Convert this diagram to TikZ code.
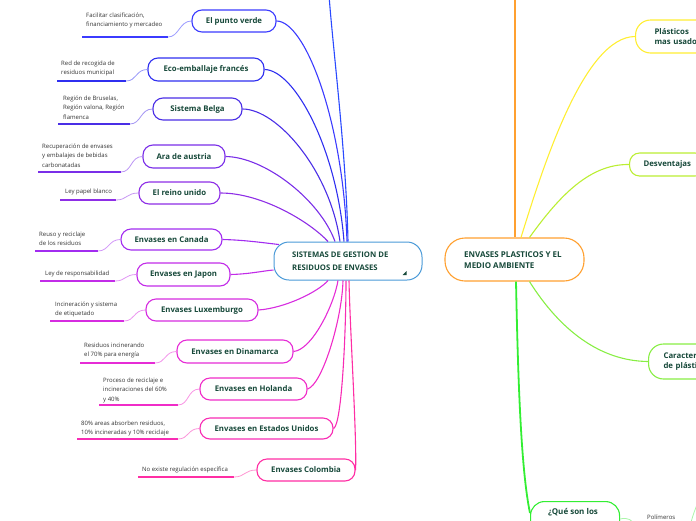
\documentclass[tikz,border=0pt]{standalone}
\usepackage{fontspec}
\setmainfont{Open Sans}
\usetikzlibrary{calc}
\definecolor{tx}{HTML}{17493A}
\definecolor{lt}{HTML}{333333}
\definecolor{ca}{HTML}{3B3BFF}
\definecolor{cb}{HTML}{2F2FF0}
\definecolor{cc}{HTML}{4A2EE6}
\definecolor{cd}{HTML}{7A2EE8}
\definecolor{ce}{HTML}{8E2EE6}
\definecolor{cf}{HTML}{A22CF0}
\definecolor{cg}{HTML}{C22CE8}
\definecolor{ch}{HTML}{D62CE0}
\definecolor{ci}{HTML}{E62CD6}
\definecolor{cj}{HTML}{F02CC8}
\definecolor{ck}{HTML}{F82CB4}
\definecolor{cl}{HTML}{FF2EA4}
\definecolor{cen}{HTML}{4A9AD8}
\definecolor{topb}{HTML}{2A4AFF}
\definecolor{orn}{HTML}{FFA030}
\definecolor{yel}{HTML}{FFEE33}
\definecolor{ygr}{HTML}{BBEE33}
\definecolor{lgr}{HTML}{88EE44}
\definecolor{grn}{HTML}{33EE33}
\definecolor{pgr}{HTML}{AAF5AA}
\tikzset{
 pill/.style={draw, rounded corners=10pt, line width=1.1pt, fill=white, minimum height=22pt, inner xsep=0pt, font=\fontsize{7.8}{9.5}\selectfont\bfseries, text=tx},
 lbl/.style={font=\fontsize{6}{9.6}\selectfont, text=lt, align=left, inner sep=0pt, anchor=north west},
 ul/.style={line width=1.8pt},
 lk/.style={line width=0.8pt},
 cn/.style={line width=1.1pt},
 bigtext/.style={font=\fontsize{7.7}{13}\selectfont\bfseries, text=tx, align=left, inner sep=0pt, anchor=west},
}
\begin{document}
\begin{tikzpicture}[x=1pt,y=-1pt]
\useasboundingbox (0,0) rectangle (696,520);
\clip (0,0) rectangle (696,520);

% ---------- left map: central node ----------
\node[draw=cen, line width=1pt, rounded corners=15pt, minimum width=148pt, minimum height=38pt, fill=white] (cen) at (348,261) {};
\node[bigtext] (cent) at (292,261.5) {SISTEMAS DE GESTION DE\\RESIDUOS DE ENVASES};
\fill[tx] (402.5,275) -- (406.5,275) -- (406.5,271) -- cycle;
\coordinate (offtop) at (329,-5);
\draw[cn, topb] ([xshift=0pt]cen.north) .. controls (346,150) and (333,50) .. (offtop);

% ---------- branch nodes ----------
\node[pill, draw=ca, minimum width=84pt] (pv) at (234,21) {El punto verde};
\node[pill, draw=cb, minimum width=116pt, minimum height=23pt] (eco) at (206,69.5) {Eco-emballaje francés};
\node[pill, draw=cc, minimum width=89pt] (bel) at (197.5,109) {Sistema Belga};
\node[pill, draw=cd, minimum width=82pt, minimum height=23pt] (aus) at (184,156.5) {Ara de austria};
\node[pill, draw=ce, minimum width=81pt] (rei) at (179.5,193) {El reino unido};
\node[pill, draw=cf, minimum width=101pt, minimum height=21pt] (can) at (171.5,239.5) {Envases en Canada};
\node[pill, draw=cg, minimum width=93pt, minimum height=23pt] (jap) at (183.5,274.5) {Envases en Japon};
\node[pill, draw=ch, minimum width=112pt] (lux) at (202,310) {Envases Luxemburgo};
\node[pill, draw=ci, minimum width=116pt, minimum height=23pt] (din) at (235,351.5) {Envases en Dinamarca};
\node[pill, draw=cj, minimum width=107pt] (hol) at (253.5,389) {Envases en Holanda};
\node[pill, draw=ck, minimum width=133pt, minimum height=21pt] (eu) at (266.5,428.5) {Envases en Estados Unidos};
\node[pill, draw=cl, minimum width=98pt] (col) at (306,470) {Envases Colombia};

% ---------- connectors to centre ----------
\draw[cn, ca] (pv.east) .. controls (305,21) and (343,120) .. ([xshift=-1pt]cen.north);
\draw[cn, cb] (eco.east) .. controls (295,70) and (337,150) .. ([xshift=-4pt]cen.north);
\draw[cn, cc] (bel.east) .. controls (277,109) and (330,170) .. ([xshift=-8pt]cen.north);
\draw[cn, cd] (aus.east) .. controls (265,157) and (320,200) .. ([xshift=-13pt]cen.north);
\draw[cn, ce] (rei.east) .. controls (262,193) and (310,222) .. ([xshift=-20pt]cen.north);
\draw[cn, cf] (can.east) .. controls (245,240) and (265,243) .. ([xshift=-69pt,yshift=-3pt]cen.north);
\draw[cn, cg] (jap.east) .. controls (250,274) and (262,271) .. ([yshift=-9pt]cen.west);
\draw[cn, ch] (lux.east) .. controls (285,308) and (318,292) .. ([xshift=-20pt]cen.south);
\draw[cn, ci] (din.east) .. controls (312,350) and (334,305) .. ([xshift=-10pt]cen.south);
\draw[cn, cj] (hol.east) .. controls (322,385) and (342,320) .. ([xshift=-5pt]cen.south);
\draw[cn, ck] (eu.east) .. controls (342,425) and (346,330) .. ([xshift=-2pt]cen.south);
\draw[cn, cl] (col.east) .. controls (357,440) and (350,330) .. ([xshift=1pt]cen.south);

% ---------- labels ----------
\node[lbl] (t1) at (86,12.5) {Facilitar clasificación,\\financiamiento y mercadeo};
\coordinate (a1) at (82,37); \coordinate (b1) at (168,37);
\draw[ul, ca] (a1) -- (b1);
\draw[lk, ca!50] (b1) .. controls +(11,0) and +(-12,0) .. (pv.west);

\node[lbl] (t2) at (61,60.5) {Red de recogida de\\residuos municipal};
\coordinate (a2) at (57,81); \coordinate (b2) at (126,81);
\draw[ul, cb] (a2) -- (b2);
\draw[lk, cb!50] (b2) .. controls +(11,0) and +(-12,0) .. (eco.west);

\node[lbl] (t3) at (63,95.5) {Región de Bruselas,\\Región valona, Región\\flamenca};
\coordinate (a3) at (58,124); \coordinate (b3) at (130,124);
\draw[ul, cc] (a3) -- (b3);
\draw[lk, cc!50] (b3) .. controls +(11,0) and +(-12,0) .. (bel.west);

\node[lbl] (t4) at (42,143.5) {Recuperación de envases\\y embalajes de bebidas\\carbonatadas};
\coordinate (a4) at (38,172); \coordinate (b4) at (121,172);
\draw[ul, cd] (a4) -- (b4);
\draw[lk, cd!50] (b4) .. controls +(11,0) and +(-12,0) .. (aus.west);

\node[lbl] (t5) at (65,188.5) {Ley papel blanco};
\coordinate (a5) at (60,200); \coordinate (b5) at (116,200);
\draw[ul, ce] (a5) -- (b5);
\draw[lk, ce!50] (b5) .. controls +(11,0) and +(-12,0) .. (rei.west);

\node[lbl] (t6) at (39,231.5) {Reuso y reciclaje\\de los residuos};
\coordinate (a6) at (35,251); \coordinate (b6) at (98,251);
\draw[ul, cf] (a6) -- (b6);
\draw[lk, cf!50] (b6) .. controls +(11,0) and +(-12,0) .. (can.west);

\node[lbl] (t7) at (45,270.5) {Ley de responsabilidad};
\coordinate (a7) at (40,281); \coordinate (b7) at (115,281);
\draw[ul, cg] (a7) -- (b7);
\draw[lk, cg!50] (b7) .. controls +(11,0) and +(-12,0) .. (jap.west);

\node[lbl] (t8) at (55,301.5) {Incineración y sistema\\de etiquetado};
\coordinate (a8) at (50,321); \coordinate (b8) at (124,321);
\draw[ul, ch] (a8) -- (b8);
\draw[lk, ch!50] (b8) .. controls +(11,0) and +(-12,0) .. (lux.west);

\node[lbl] (t9) at (84,342.5) {Residuos incinerando\\el 70\% para energía};
\coordinate (a9) at (80,363); \coordinate (b9) at (155,363);
\draw[ul, ci] (a9) -- (b9);
\draw[lk, ci!50] (b9) .. controls +(11,0) and +(-12,0) .. (din.west);

\node[lbl] (t10) at (103,377.5) {Proceso de reciclaje e\\incineraciones del 60\%\\y 40\%};
\coordinate (a10) at (99,405); \coordinate (b10) at (178,405);
\draw[ul, cj] (a10) -- (b10);
\draw[lk, cj!50] (b10) .. controls +(11,0) and +(-12,0) .. (hol.west);

\node[lbl] (t11) at (81,420.5) {80\% areas absorben residuos,\\10\% incineradas y 10\% reciclaje};
\coordinate (a11) at (77,439); \coordinate (b11) at (178,439);
\draw[ul, ck] (a11) -- (b11);
\draw[lk, ck!50] (b11) .. controls +(11,0) and +(-12,0) .. (eu.west);

\node[lbl] (t12) at (142,466.5) {No existe regulación específica};
\coordinate (a12) at (138,477); \coordinate (b12) at (234,477);
\draw[ul, cl] (a12) -- (b12);
\draw[lk, cl!50] (b12) .. controls +(11,0) and +(-12,0) .. (col.west);

% ---------- right map ----------
\node[draw=orn, line width=1.1pt, rounded corners=20pt, minimum width=139pt, minimum height=43pt, fill=white] (rt) at (514.5,259.5) {};
\node[font=\fontsize{8}{11}\selectfont\bfseries, text=tx, align=left, inner sep=0pt, anchor=west] (rtt) at (464,260) {ENVASES PLASTICOS Y EL\\MEDIO AMBIENTE};
\coordinate (offtop2) at (515,-5);
\draw[line width=2pt, orn] ([xshift=0.5pt]rt.north) -- (offtop2);

\node[pill, draw=yel, anchor=west, align=left, text width=60pt, inner xsep=19pt, minimum height=33pt, rounded corners=15pt] (pla) at (635,36.5) {Plásticos\\mas usados};
\node[pill, draw=ygr, anchor=west, inner xsep=14pt, minimum height=23pt] (des) at (629,164.5) {Desventajas};
\node[pill, draw=lgr, anchor=west, align=left, text width=70pt, inner xsep=15pt, minimum height=35pt, rounded corners=15pt] (car) at (648,361.5) {Características\\de plásticos};
\node[draw=grn, line width=1.1pt, rounded corners=14pt, fill=white, minimum width=89pt, minimum height=45pt, anchor=north west] (que) at (530,501) {};
\node[font=\fontsize{8}{10}\selectfont\bfseries, text=tx, inner sep=0pt] (quet) at (573,512.5) {¿Qué son los};
\node[font=\fontsize{6}{9}\selectfont, text=lt, inner sep=0pt, anchor=west] (pol) at (647,517.5) {Polímeros};

\draw[cn, yel] ([xshift=6.5pt]rt.north) .. controls (545,160) and (585,37) .. (pla.west);
\draw[cn, ygr] ([xshift=15pt]rt.north) .. controls (560,195) and (590,164) .. (des.west);
\draw[cn, lgr] ([xshift=15pt]rt.south) .. controls (560,330) and (600,361) .. (car.west);
\draw[line width=1.8pt, grn] ([xshift=1.5pt]rt.south) .. controls (518,380) and (521,470) .. ([yshift=-12pt]que.north west);
\coordinate (polw) at (636,526);
\draw[lk, pgr] ([yshift=-18pt]que.north east) .. controls (628,517) and (632,520) .. (polw);
\coordinate (pole) at (698,502);
\coordinate (pols) at (690,526);
\draw[lk, pgr] (pols) .. controls (693,515) .. (pole);
\end{tikzpicture}
\end{document}
